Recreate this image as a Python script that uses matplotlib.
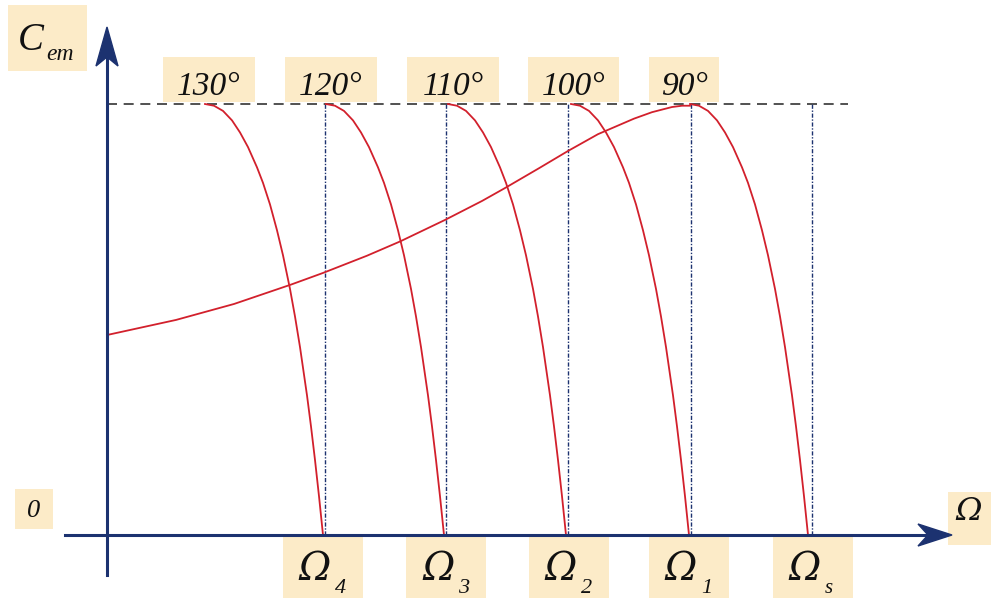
import matplotlib.pyplot as plt
from matplotlib.patches import Rectangle, Polygon
from matplotlib.lines import Line2D
import numpy as np

# torque/speed data (speed in arbitrary units from the origin, torque normalised to C_max = 1)
omega_names = ['4', '3', '2', '1', 's']
omega_marks = [2.18, 3.39, 4.61, 5.84, 7.05]      # dotted reference speeds
omega_zero = [2.16, 3.37, 4.59, 5.82, 7.01]       # speed where each curve reaches zero torque
angle_labels = ['130°', '120°', '110°', '100°', '90°']

# shape of one torque branch, relative to its zero-torque speed
branch_dw = [-1.18, -1.09, -1.00, -0.91, -0.83, -0.75, -0.66, -0.60, -0.53, -0.46,
             -0.40, -0.33, -0.28, -0.23, -0.16, -0.12, -0.08, -0.04, 0.0]
branch_c = [1.0, 0.996, 0.984, 0.962, 0.934, 0.900, 0.853, 0.817, 0.767, 0.707,
            0.649, 0.571, 0.507, 0.436, 0.324, 0.252, 0.174, 0.09, 0.0]

# locus of maximum torque curve
locus_w = [0.0, 0.69, 1.27, 1.84, 2.16, 2.60, 2.93, 3.38, 3.75, 3.98, 4.32, 4.61,
           4.91, 5.27, 5.45, 5.65, 5.75, 5.83]
locus_c = [0.464, 0.499, 0.536, 0.581, 0.608, 0.648, 0.681, 0.731, 0.775, 0.805, 0.851, 0.891,
           0.930, 0.966, 0.981, 0.993, 0.996, 0.996]

c_max = 1.0
dash_end = 7.41

W, H = 991, 598
NAVY = '#1c3270'
RED = '#d2202c'
TAN = '#fcebc8'
SERIF = 'Liberation Serif'

fig = plt.figure(figsize=(W / 100, H / 100), dpi=100)
ax = fig.add_axes([0, 0, 1, 1])
ax.set_xlim(-1.07, (W - 107) / 100)
ax.set_ylim((535 - H) / 431, 535 / 431)
ax.axis('off')


def fx(x, y):
    # pixel position (from top-left) -> figure fraction
    return x / W, 1 - y / H


def box(x0, y0, x1, y1):
    fig.add_artist(Rectangle(fx(x0, y1), (x1 - x0) / W, (y1 - y0) / H,
                             transform=fig.transFigure, facecolor=TAN,
                             edgecolor='none', zorder=0))


def label(x, y, s, size, ha='center', family=SERIF):
    fig.text(*fx(x, y), s, fontsize=size, family=family, style='italic',
             ha=ha, va='baseline', color='#111111', zorder=5)


# axes with arrow heads
fig.add_artist(Line2D([107 / W, 107 / W], [1 - 575 / H, 1 - 50 / H],
                      transform=fig.transFigure, color=NAVY, lw=2.2))
fig.add_artist(Line2D([65 / W, 930 / W], [1 - 535 / H, 1 - 535 / H],
                      transform=fig.transFigure, color=NAVY, lw=2.2))
fig.add_artist(Polygon([fx(107, 27), fx(96, 66), fx(107, 57), fx(118, 66)],
                       closed=True, transform=fig.transFigure, color=NAVY))
fig.add_artist(Polygon([fx(952, 535), fx(918, 524), fx(928, 535), fx(918, 546)],
                       closed=True, transform=fig.transFigure, color=NAVY))

# maximum torque level and reference speeds
ax.hlines(c_max, 0, dash_end, colors='#333333', lw=1.2, linestyles=(0, (6, 4)), zorder=2)
ax.vlines(omega_marks, 0, c_max, colors=NAVY, lw=1.0, linestyles=(0, (3, 1.2, 1, 1.2)), zorder=2)

# torque branches for each angle
for w0 in omega_zero:
    ax.plot(np.array(branch_dw) + w0, branch_c, color=RED, lw=1.3, zorder=3)
ax.plot(locus_w, locus_c, color=RED, lw=1.3, zorder=3)

# angle labels above the curves
angle_boxes = [163, 285, 407, 528, 649]
angle_widths = [92, 92, 92, 91, 70]
for x0, wd, s in zip(angle_boxes, angle_widths, angle_labels):
    box(x0, 57, x0 + wd, 102)
    label(x0 + wd / 2, 95, s, 24)

# speed labels under the axis
omega_boxes = [283, 406, 529, 649, 773]
for x0, n in zip(omega_boxes, omega_names):
    box(x0, 537, x0 + 80, 598)
    label(x0 + 32, 580, 'Ω', 28, family='DejaVu Serif')
    label(x0 + 52, 593, n, 16 if n != 's' else 15, ha='left')

# axis names
box(8, 5, 87, 71)
label(31, 50, 'C', 28)
label(46, 60, 'em', 17, ha='left')

box(15, 489, 53, 529)
label(34, 517, '0', 19)

box(948, 492, 991, 545)
label(955, 520, 'Ω', 23, ha='left', family='DejaVu Serif')

fig.savefig('out.png', dpi=100)
